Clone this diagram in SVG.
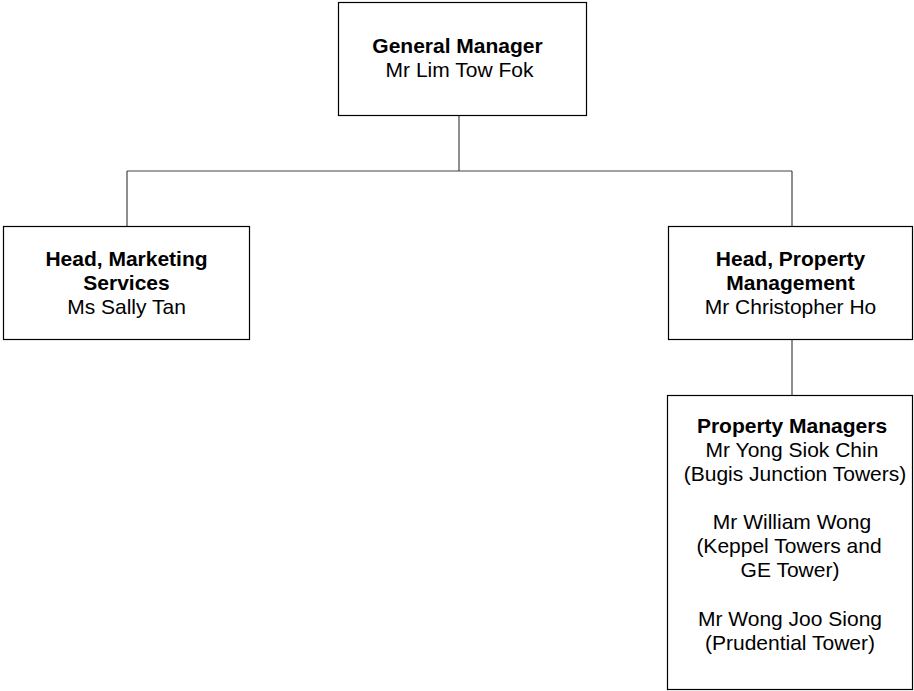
<svg xmlns="http://www.w3.org/2000/svg" width="914" height="691" viewBox="0 0 914 691">
<style>
.box{fill:#fff;stroke:#000;stroke-width:1.2}
.conn{fill:none;stroke:#444;stroke-width:1.2}
text{font-family:"Liberation Sans",Arial,sans-serif;font-size:21px;fill:#000;text-anchor:middle}
.b{font-weight:bold}
</style>
<rect width="914" height="691" fill="#fff"/>
<g id="connectors">
<path class="conn" d="M459 116V171M127 171H792M127 171V226M792 171V226M792 340V395"/>
</g>
<g id="gm">
<rect class="box" x="338.5" y="2.5" width="248" height="113"/>
<text x="457.5" y="53" class="b">General Manager</text>
<text x="459.5" y="77">Mr Lim Tow Fok</text>
</g>
<g id="marketing">
<rect class="box" x="3.5" y="226.5" width="246" height="113"/>
<text x="126.5" y="266" class="b">Head, Marketing</text>
<text x="126.5" y="290" class="b">Services</text>
<text x="126.5" y="314">Ms Sally Tan</text>
</g>
<g id="property">
<rect class="box" x="668.5" y="226.5" width="244" height="113"/>
<text x="790.5" y="266" class="b">Head, Property</text>
<text x="790.5" y="290" class="b">Management</text>
<text x="790.5" y="314">Mr Christopher Ho</text>
</g>
<g id="managers">
<rect class="box" x="667.5" y="395.5" width="245" height="294"/>
<text x="792" y="433" class="b">Property Managers</text>
<text x="792" y="457">Mr Yong Siok Chin</text>
<text x="795" y="481">(Bugis Junction Towers)</text>
<text x="792" y="529">Mr William Wong</text>
<text x="789" y="553">(Keppel Towers and</text>
<text x="790" y="577">GE Tower)</text>
<text x="790" y="626">Mr Wong Joo Siong</text>
<text x="790" y="650">(Prudential Tower)</text>
</g>
</svg>
